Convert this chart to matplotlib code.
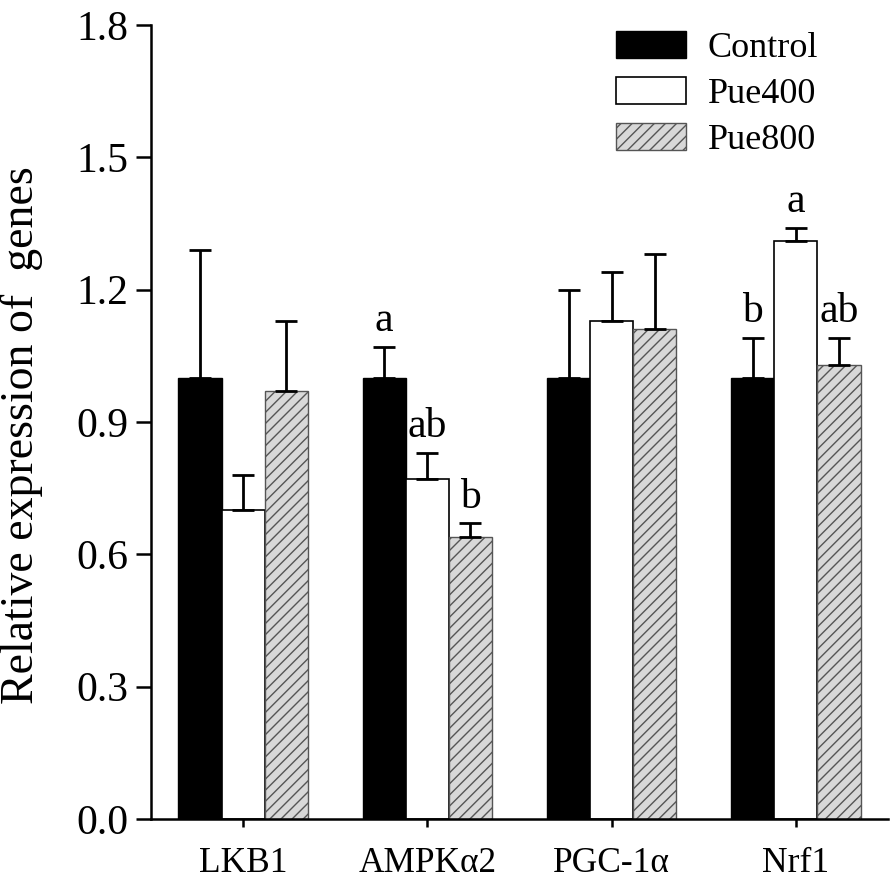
import matplotlib
matplotlib.use("Agg")
import matplotlib.pyplot as plt
import numpy as np

genes = ["LKB1", "AMPK\u03b12", "PGC-1\u03b1", "Nrf1"]
groups = ["Control", "Pue400", "Pue800"]
means = {
    "Control": [1.00, 1.00, 1.00, 1.00],
    "Pue400": [0.70, 0.77, 1.13, 1.31],
    "Pue800": [0.97, 0.64, 1.11, 1.03],
}
errors = {
    "Control": [0.29, 0.07, 0.20, 0.09],
    "Pue400": [0.08, 0.06, 0.11, 0.03],
    "Pue800": [0.16, 0.03, 0.17, 0.06],
}
letters = {
    "Control": ["", "a", "", "b"],
    "Pue400": ["", "ab", "", "a"],
    "Pue800": ["", "b", "", "ab"],
}
yticks = [0.0, 0.3, 0.6, 0.9, 1.2, 1.5, 1.8]

plt.rcParams['font.family'] = ['Liberation Serif', 'DejaVu Serif']
plt.rcParams['hatch.linewidth'] = 1.0

fig = plt.figure(figsize=(8.93, 8.83), dpi=100)
ax = fig.add_axes([151/893, 1-819/883, (888-151)/893, (819-25)/883])

styles = {
    "Control": dict(facecolor="black", edgecolor="black", linewidth=1.0),
    "Pue400": dict(facecolor="white", edgecolor="black", linewidth=1.2),
    "Pue800": dict(facecolor="#d8d8d8", edgecolor="#555555", linewidth=1.0, hatch="///"),
}
width = 0.234
x = np.arange(len(genes))
for i, g in enumerate(groups):
    pos = x + (i - 1) * width
    ax.bar(pos, means[g], width, label=g, zorder=2, **styles[g])
    ax.errorbar(pos, means[g], yerr=[np.zeros(len(genes)), errors[g]], fmt='none',
                ecolor='black', elinewidth=2.0, capsize=8, capthick=2.0, zorder=3)
    for p, m, e, t in zip(pos, means[g], errors[g], letters[g]):
        if t:
            ax.annotate(t, (p, m + e), xytext=(0, 5), textcoords='offset points',
                        ha='center', va='bottom', fontsize=30)

ax.set_xlim(-0.5, 3.5)
ax.set_ylim(0, 1.8)
ax.set_yticks(yticks)
ax.set_yticklabels([f"{v:.1f}" for v in yticks])
ax.set_xticks(x)
ax.set_xticklabels(genes)
for s in ["top", "right"]:
    ax.spines[s].set_visible(False)
for s in ["left", "bottom"]:
    ax.spines[s].set_linewidth(1.8)
ax.tick_params(axis='y', labelsize=30, length=10.5, width=1.8, pad=6)
ax.tick_params(axis='x', labelsize=25.5, length=6, width=1.8, pad=14)
ax.set_ylabel("Relative expression of  genes", fontsize=33)
ax.yaxis.set_label_coords((43-151)/737, (819-435)/794)

ax.legend(loc='upper left', bbox_to_anchor=((616-151)/737, (819-31)/794),
          frameon=False, fontsize=26, handlelength=1.94, handleheight=0.78,
          handletextpad=0.6, labelspacing=0.33, borderpad=0, borderaxespad=0)

fig.savefig("out.png", dpi=100)
